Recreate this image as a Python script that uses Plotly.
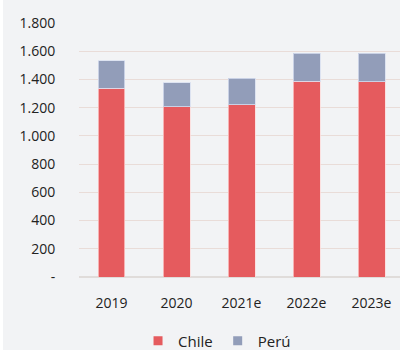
import plotly.graph_objects as go

years = ["2019", "2020", "2021e", "2022e", "2023e"]
chile = [1339, 1207, 1219, 1389, 1382]
peru = [192, 168, 188, 198, 205]
y_ticks = [0, 200, 400, 600, 800, 1000, 1200, 1400, 1600, 1800]
y_tick_text = ["-", "200", "400", "600", "800", "1.000", "1.200", "1.400", "1.600", "1.800"]

font_family = "Open Sans"
txt = "#222222"
c_chile = "#e55b5e"
c_peru = "#929db9"

fig = go.Figure()
fig.add_trace(go.Bar(x=years, y=chile, name="Chile", width=0.415, showlegend=False,
                     marker=dict(color=c_chile, line=dict(color="rgba(255,215,215,0.7)", width=1))))
fig.add_trace(go.Bar(x=years, y=peru, name="Perú", width=0.415, showlegend=False,
                     marker=dict(color=c_peru, line=dict(color="rgba(215,222,240,0.8)", width=1))))
# legend entries with small square swatches
fig.add_trace(go.Scatter(x=[None], y=[None], mode="markers", name="Chile",
                         marker=dict(symbol="square", size=9, color=c_chile)))
fig.add_trace(go.Scatter(x=[None], y=[None], mode="markers", name="Perú",
                         marker=dict(symbol="square", size=9, color=c_peru)))

fig.update_layout(
    barmode="stack",
    width=400, height=350,
    margin=dict(l=79, r=0, t=23, b=73, autoexpand=False),
    paper_bgcolor="#f2f3f5",
    plot_bgcolor="#f2f3f5",
    font=dict(family=font_family, size=14, color=txt),
    showlegend=True,
    legend=dict(orientation="h", x=0.43, xanchor="center", y=-0.252, yanchor="middle",
                font=dict(size=15, color=txt), itemwidth=30, traceorder="normal",
                bgcolor="rgba(0,0,0,0)", tracegroupgap=0),
    xaxis=dict(range=[-0.5, 4.438], showgrid=False, zeroline=False, showline=False,
               ticks="outside", ticklen=13, tickcolor="rgba(0,0,0,0)",
               tickfont=dict(size=14, color=txt)),
    yaxis=dict(range=[0, 1800], tickvals=y_ticks, ticktext=y_tick_text,
               showgrid=True, gridcolor="#e9dcd8", gridwidth=1.3,
               zeroline=True, zerolinecolor="#e0dcda", zerolinewidth=2,
               showline=False, ticks="outside", ticklen=20, tickcolor="rgba(0,0,0,0)",
               tickfont=dict(size=14, color=txt)),
    shapes=[dict(type="rect", xref="paper", yref="paper", x0=-79/321, x1=-76/321,
                 y0=-73/254, y1=(254+23)/254, fillcolor="#ffffff", line=dict(width=0), layer="below")],
)

fig.write_html("out.html")
